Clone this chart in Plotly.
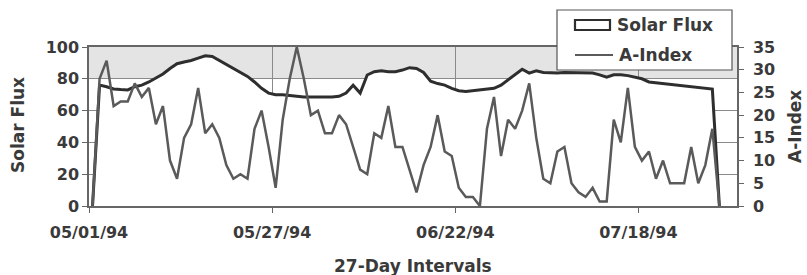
import pandas as pd
import plotly.graph_objects as go

start_date = "1994-05-01"
solar_flux = [0, 76, 75, 73.6, 73.2, 73, 75, 76, 78, 80.5,
              83, 86.5, 89.5, 90.6, 91.5, 93, 94.5, 94, 91.5, 89.5,
              86.5, 84, 81.5, 78, 74, 71, 70, 70, 69.5, 69,
              68.5, 68.5, 68.5, 68.5, 68.5, 69, 71, 76, 71, 82.4,
              84.5, 85, 84.5, 84.5, 85.5, 87, 86.5, 84, 78.5, 77,
              76, 74, 72.5, 72, 72.5, 73, 73.5, 74, 76, 79.5,
              83, 86, 83.6, 85, 84, 83.6, 83.6, 84, 84, 84,
              84, 83.6, 82.5, 81, 82.5, 82.5, 82, 81, 80, 78,
              77.5, 77, 76.5, 76, 75.2, 74.8, 74.2, 74, 73.5, 0]
a_index = [0, 28, 32, 22, 23, 23, 27, 24, 26, 18,
           22, 10, 6, 15, 18, 26, 16, 18, 15, 9,
           6, 7, 6, 17, 21, 13, 4, 19, 28, 35,
           28, 20, 21, 16, 16, 20, 18, 13, 8, 7,
           16, 15, 22, 13, 13, 8, 3, 9, 13, 20,
           12, 11, 4, 2, 2, 0, 17, 24, 11, 19,
           17, 21, 27, 15, 6, 5, 12, 13, 5, 3,
           2, 4, 1, 1, 19, 14, 26, 13, 10, 12,
           6, 10, 5, 5, 5, 13, 5, 9, 17, 0]
tick_dates = ["1994-05-01", "1994-05-27", "1994-06-22", "1994-07-18"]
tick_labels = ["05/01/94", "05/27/94", "06/22/94", "07/18/94"]
x_range = ["1994-05-01", "1994-08-01"]

dates = pd.date_range(pd.Timestamp(start_date) + pd.Timedelta(hours=12),
                      periods=len(solar_flux), freq="D")

TXT = "#3a3a3a"
FONT = "DejaVu Sans"
W, H = 807, 275
L, R, T, B = 89, 70, 47, 69
PW, PH = W - L - R, H - T - B


def px(xp):
    return (xp - L) / PW


def py(yp):
    return (H - B - yp) / PH


fig = go.Figure()
fig.add_trace(go.Scatter(x=dates, y=solar_flux, name="Solar Flux", mode="lines",
                         fill="tozeroy", fillcolor="white",
                         line=dict(color="#2e2e2e", width=3), yaxis="y",
                         showlegend=False))
fig.add_trace(go.Scatter(x=dates, y=a_index, name="A-Index", mode="lines",
                         line=dict(color="#5a5a5a", width=2.5), yaxis="y2",
                         showlegend=False))

axis_line = "#666666"
fig.update_layout(
    width=W, height=H,
    margin=dict(l=L, r=R, t=T, b=B, autoexpand=False),
    paper_bgcolor="white", plot_bgcolor="white",
    font=dict(family=FONT, color=TXT, size=16, weight="bold"),
    xaxis=dict(type="date", range=x_range, tickvals=tick_dates, ticktext=tick_labels,
               showgrid=True, gridcolor="#8a8a8a", gridwidth=1,
               showline=True, linecolor=axis_line, linewidth=1.5, mirror=True,
               ticks="outside", ticklen=5, tickcolor=axis_line,
               ticklabelstandoff=6,
               tickfont=dict(family=FONT, size=16, color=TXT, weight="bold"),
               zeroline=False),
    yaxis=dict(range=[0, 100], dtick=20, showgrid=True, gridcolor="#8a8a8a",
               gridwidth=1, showline=True, linecolor=axis_line, linewidth=1.5,
               ticks="outside", ticklen=5, tickcolor=axis_line, zeroline=False,
               tickfont=dict(family=FONT, size=16, color=TXT, weight="bold")),
    yaxis2=dict(range=[0, 35], dtick=5, overlaying="y", side="right",
                showgrid=False, showline=True, linecolor=axis_line, linewidth=1.5,
                ticks="outside", ticklen=5, tickcolor=axis_line, zeroline=False,
                ticklabelstandoff=6,
                tickfont=dict(family=FONT, size=16, color=TXT, weight="bold")),
)

shapes = [
    dict(type="rect", xref="x domain", yref="y", x0=0, x1=1, y0=80, y1=100,
         fillcolor="#e4e4e4", line=dict(width=0), layer="below"),
    # legend box
    dict(type="rect", xref="paper", yref="paper", x0=px(557), x1=px(732),
         y0=py(70), y1=py(10), fillcolor="white",
         line=dict(color="#555555", width=1.2), layer="above"),
    dict(type="rect", xref="paper", yref="paper", x0=px(575), x1=px(610),
         y0=py(30), y1=py(20), fillcolor="white",
         line=dict(color="#2e2e2e", width=2.2), layer="above"),
    dict(type="line", xref="paper", yref="paper", x0=px(575), x1=px(613),
         y0=py(55), y1=py(55), line=dict(color="#5a5a5a", width=2.2), layer="above"),
]
fig.update_layout(shapes=shapes)

ann_font = dict(family=FONT, size=17, color=TXT, weight="bold")
fig.update_layout(annotations=[
    dict(text="Solar Flux", xref="paper", yref="paper", x=0, xshift=-71,
         y=py(125), textangle=-90, showarrow=False, font=ann_font,
         xanchor="center", yanchor="middle"),
    dict(text="A-Index", xref="paper", yref="paper", x=1, xshift=58,
         y=py(127), textangle=-90, showarrow=False, font=ann_font,
         xanchor="center", yanchor="middle"),
    dict(text="27-Day Intervals", xref="paper", yref="paper", x=0.5,
         y=py(266), showarrow=False, font=ann_font,
         xanchor="center", yanchor="middle"),
    dict(text="Solar Flux", xref="paper", yref="paper", x=px(615), y=py(25),
         showarrow=False, font=ann_font, xanchor="left", yanchor="middle"),
    dict(text="A-Index", xref="paper", yref="paper", x=px(617), y=py(55),
         showarrow=False, font=ann_font, xanchor="left", yanchor="middle"),
])

fig.write_html("out.html",
               config={"displayModeBar": False},
               post_script="document.body.style.margin='0px';"
                           "document.body.style.overflow='hidden';")
